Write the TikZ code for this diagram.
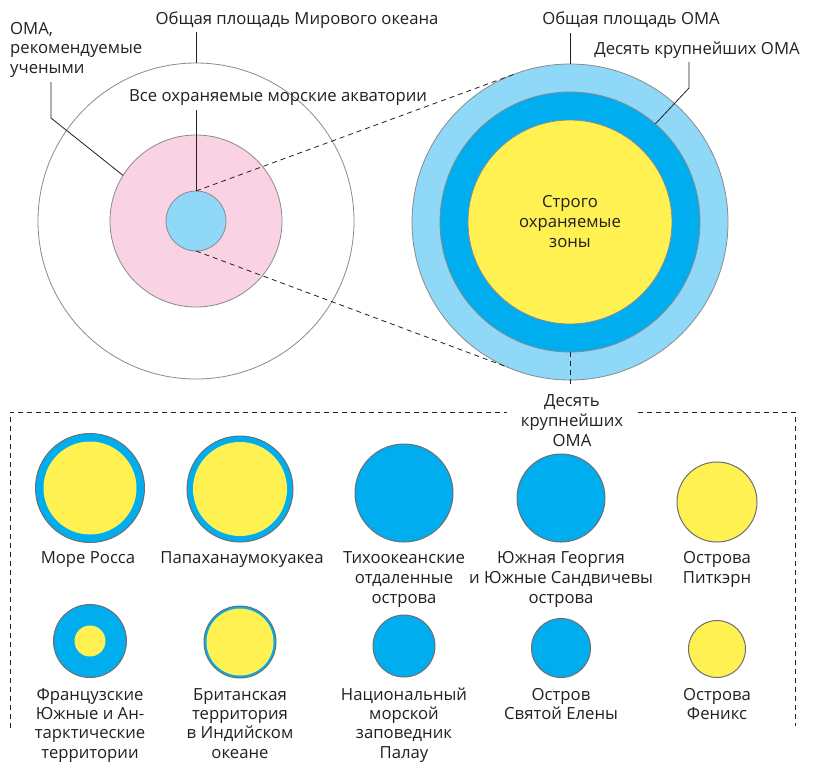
\documentclass[tikz,border=0pt]{standalone}
\usepackage{fontspec}
\setmainfont{Open Sans}
\definecolor{lblue}{HTML}{8FD8F7}
\definecolor{dblue}{HTML}{00ADEE}
\definecolor{yel}{HTML}{FFF152}
\definecolor{pinkc}{HTML}{F9D3E4}
\definecolor{edge}{HTML}{8A8A8A}
\definecolor{edgetwo}{HTML}{6D6E71}
\definecolor{txt}{HTML}{231F20}
\tikzset{
  disc/.style={circle, inner sep=0pt, outer sep=0pt, draw=edge, line width=0.8pt},
  mini/.style={circle, inner sep=0pt, outer sep=0pt, draw=edgetwo, line width=1pt},
  core/.style={circle, inner sep=0pt, outer sep=0pt, fill=yel},
  lbl/.style={font=\fontsize{16.7}{20}\selectfont, text=txt, align=center, anchor=base, inner sep=0pt},
  lbltight/.style={lbl, font=\fontsize{16.7}{19.3}\selectfont},
  leader/.style={draw=txt, line width=0.8pt},
  dashline/.style={draw=txt, line width=0.8pt, dash pattern=on 5pt off 4pt},
}
\begin{document}
\begin{tikzpicture}[x=1pt,y=-1pt]
\useasboundingbox (0,0) rectangle (818,764);
% left group
\node[disc, fill=white, minimum size=316pt] (world) at (196,221) {};
\node[disc, fill=pinkc, minimum size=172pt] (rec) at (196,221) {};
\node[disc, fill=lblue, minimum size=60pt] (all) at (196,221) {};
% right group
\node[disc, fill=lblue, minimum size=316pt] (oma) at (570,222) {};
\node[disc, fill=dblue, minimum size=260pt] (top) at (570,222) {};
\node[disc, fill=yel, minimum size=204pt, font=\fontsize{16.7}{20}\selectfont, text=txt, align=center] (strict) at (570,222) {Строго\\охраняемые\\зоны};
% labels
\node[lbl] (worldlbl) at (297,24) {Общая площадь Мирового океана};
\node[lbltight, align=left, anchor=base west] (reclbl) at (10,73) {ОМА,\\рекомендуемые\\учеными};
\node[lbl] (alllbl) at (278,101) {Все охраняемые морские акватории};
\node[lbl] (omalbl) at (631,24) {Общая площадь ОМА};
\node[lbl] (toplbl) at (697,54) {Десять крупнейших ОМА};
\node[lbl] (tenlbl) at (572,446) {Десять\\крупнейших\\ОМА};
% leaders
\coordinate (w1) at (196,32);
\draw[leader] (w1) -- (world.north);
\coordinate (r1) at (51,82);
\coordinate (r2) at (51,118);
\draw[leader] (r1) -- (r2) -- (rec.148.7);
\coordinate (a1) at (196,110);
\draw[leader] (a1) -- (all.north);
\coordinate (o1) at (570,33);
\draw[leader] (o1) -- (oma.north);
\coordinate (t1) at (689,62);
\coordinate (t2) at (689,88);
\draw[leader] (t1) -- (t2) -- (top.49.5);
\draw[dashline] (all.north) -- (oma.111.5);
\draw[dashline] (all.south) -- (oma.247.5);
\coordinate (d1) at (570,388);
\draw[dashline] (top.south) -- (d1);
% box
\coordinate (b1) at (10,728);
\coordinate (b2) at (10,412);
\coordinate (b3) at (507,412);
\coordinate (b4) at (638,412);
\coordinate (b5) at (795,412);
\coordinate (b6) at (795,726);
\draw[dashline] (b1) -- (b2) -- (b3);
\draw[dashline] (b4) -- (b5) -- (b6);
% row 1
\node[mini, fill=dblue, minimum size=109pt] (ross) at (90,488) {};
\node[core, minimum size=93pt] (rossin) at (90,488) {};
\node[mini, fill=dblue, minimum size=106pt] (papa) at (240,489) {};
\node[core, minimum size=94pt] (papain) at (240,489) {};
\node[mini, fill=dblue, minimum size=98pt] (pacific) at (404,493) {};
\node[mini, fill=dblue, minimum size=88pt] (georgia) at (561,498) {};
\node[mini, fill=yel, minimum size=80pt] (pitcairn) at (717,502) {};
\node[lbl] (rosslbl) at (88,563) {Море Росса};
\node[lbl] (papalbl) at (242,563) {Папаханаумокуакеа};
\node[lbl] (pacificlbl) at (404,603) {Тихоокеанские\\отдаленные\\острова};
\node[lbl] (georgialbl) at (561,603) {Южная Георгия\\и Южные Сандвичевы\\острова};
\node[lbl] (pitcairnlbl) at (717,583) {Острова\\Питкэрн};
% row 2
\node[mini, fill=dblue, minimum size=73pt] (french) at (90,641) {};
\node[core, minimum size=31pt] (frenchin) at (90,641) {};
\node[mini, fill=dblue, minimum size=72pt] (british) at (240,642) {};
\node[core, minimum size=67pt] (britishin) at (240,642) {};
\node[mini, fill=dblue, minimum size=62pt] (palau) at (404,646) {};
\node[mini, fill=dblue, minimum size=59pt] (helena) at (561,648) {};
\node[mini, fill=yel, minimum size=57pt] (phoenix) at (717,649) {};
\node[lbltight] (frenchlbl) at (90,758) {Французские\\Южные и Ан-\\тарктические\\территории};
\node[lbltight] (britishlbl) at (240,758) {Британская\\территория\\в Индийском\\океане};
\node[lbltight] (palaulbl) at (404,758) {Национальный\\морской\\заповедник\\Палау};
\node[lbltight] (helenalbl) at (561,719.3) {Остров\\Святой Елены};
\node[lbltight] (phoenixlbl) at (717,719.3) {Острова\\Феникс};
\end{tikzpicture}
\end{document}
